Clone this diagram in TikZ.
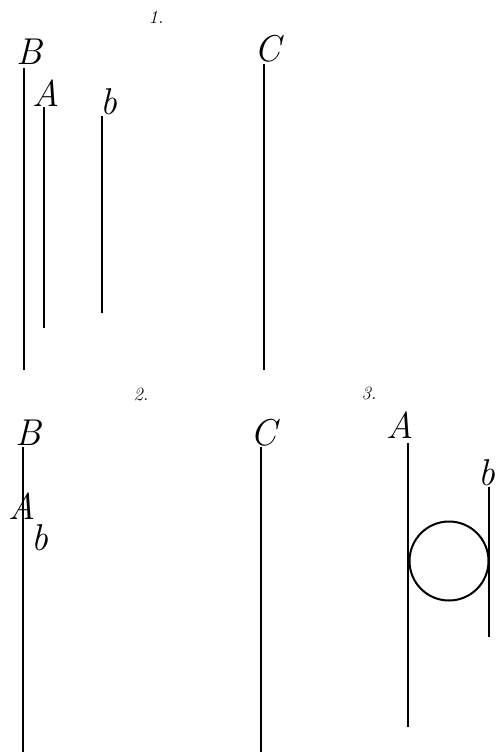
\documentclass[tikz,border=0pt]{standalone}
\usepackage{fontspec}
\usepackage{tikz}

\tikzset{
  rod/.style={line width=1.2pt},
  ring/.style={line width=1.5pt},
  lbl/.style={anchor=base,inner sep=0pt,font=\fontsize{28}{32}\selectfont\itshape},
  fignum/.style={inner sep=0pt,font=\fontsize{14}{16}\selectfont\itshape}
}

\begin{document}
\begin{tikzpicture}[x=0.75pt,y=0.75pt,yscale=-1,xscale=1]
        \useasboundingbox (0,0) rectangle (498,752);

        % Figure 1
        \node [fignum] (num1) at (156,17) {1.};
        \node [lbl] (B1) at (29,65) {B};
        \node [lbl] (A1) at (46,107) {A};
        \node [lbl] (b1) at (109,115) {b};
        \node [lbl] (C1) at (268,62) {C};
        \coordinate (B1top) at (24,68);
        \coordinate (B1bot) at (24,370);
        \coordinate (A1top) at (44,107);
        \coordinate (A1bot) at (44,328);
        \coordinate (b1top) at (102,116);
        \coordinate (b1bot) at (102,313);
        \coordinate (C1top) at (264,64);
        \coordinate (C1bot) at (264,370);
        \draw [rod] (B1top) -- (B1bot);
        \draw [rod] (A1top) -- (A1bot);
        \draw [rod] (b1top) -- (b1bot);
        \draw [rod] (C1top) -- (C1bot);

        % Figure 2
        \node [fignum] (num2) at (141,394) {2.};
        \node [lbl] (B2) at (28,445) {B};
        \node [lbl] (A2) at (22,519) {A};
        \node [lbl] (b2) at (40,550) {b};
        \node [lbl] (C2) at (264,445) {C};
        \coordinate (B2top) at (23,447);
        \coordinate (B2bot) at (23,752);
        \coordinate (C2top) at (261,447);
        \coordinate (C2bot) at (261,752);
        \draw [rod] (B2top) -- (B2bot);
        \draw [rod] (C2top) -- (C2bot);

        % Figure 3
        \node [fignum] (num3) at (369,393) {3.};
        \node [lbl] (A3) at (400,438) {A};
        \node [lbl] (b3) at (487,485) {b};
        \coordinate (A3top) at (408,443);
        \coordinate (A3bot) at (408,727);
        \coordinate (b3top) at (489,487);
        \coordinate (b3bot) at (489,637);
        \draw [rod] (A3top) -- (A3bot);
        \draw [rod] (b3top) -- (b3bot);
        \draw [ring] (449,561) circle [radius=39.5];

\end{tikzpicture}
\end{document}
